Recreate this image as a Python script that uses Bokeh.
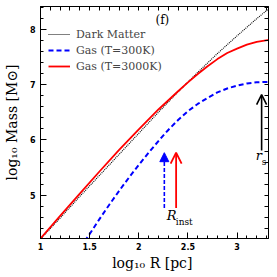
from bokeh.plotting import figure
from bokeh.models import (LinearAxis, SingleIntervalTicker, FixedTicker, Legend, LegendItem,
                          Label, Arrow, OpenHead, NormalHead, Range1d)
from bokeh.embed import file_html
from bokeh.resources import INLINE

# ---- data ----
log_r_dm = [1.0, 1.2, 1.4, 1.6, 1.8, 2.0, 2.2, 2.4, 2.6, 2.8, 3.0, 3.2, 3.33]
log_m_dm = [4.21, 4.59, 4.98, 5.36, 5.74, 6.12, 6.50, 6.87, 7.22, 7.56, 7.88, 8.19, 8.38]

log_r_hot = [1.0, 1.2, 1.4, 1.6, 1.8, 2.0, 2.2, 2.4, 2.5, 2.6, 2.7, 2.8, 2.9, 3.0, 3.1, 3.2, 3.33]
log_m_hot = [4.22, 4.63, 5.03, 5.43, 5.82, 6.19, 6.55, 6.88, 7.04, 7.19, 7.33, 7.46, 7.57, 7.65, 7.72, 7.77, 7.81]

log_r_cold = [1.45, 1.5, 1.6, 1.7, 1.8, 1.9, 2.0, 2.1, 2.2, 2.3, 2.4, 2.5, 2.6, 2.7, 2.8, 2.9, 3.0, 3.1, 3.2, 3.33]
log_m_cold = [4.17, 4.30, 4.57, 4.83, 5.08, 5.32, 5.55, 5.77, 5.98, 6.18, 6.36, 6.52, 6.65, 6.76, 6.86, 6.93, 6.98, 7.02, 7.04, 7.05]

legend_labels = ["Dark Matter", "Gas (T=300K)", "Gas (T=3000K)"]
r_inst_cold = 2.26
r_inst_hot = 2.38
r_s = 3.25

x_mirror_ticks = [round(1.0 + 0.1 * i, 1) for i in range(24)]
y_mirror_ticks = [round(4.4 + 0.2 * i, 1) for i in range(21)]

SERIF = "DejaVu Serif"

p = figure(width=277, height=277, output_backend="svg", toolbar_location=None,
           x_range=Range1d(1.0, 3.32), y_range=Range1d(4.22, 8.41),
           min_border_left=38, min_border_right=9, min_border_top=6, min_border_bottom=39,
           x_axis_label="log\u2081\u2080 R  [pc]", y_axis_label="log\u2081\u2080 Mass [M\u2299]")
p.grid.visible = False
p.background_fill_color = "white"
p.outline_line_color = "black"
p.outline_line_width = 1


def style(ax, ticker):
    ax.ticker = ticker
    ax.axis_line_color = "black"
    ax.major_tick_in = 6
    ax.major_tick_out = 0
    ax.minor_tick_in = 3
    ax.minor_tick_out = 0
    ax.major_tick_line_color = "black"
    ax.minor_tick_line_color = "black"
    ax.major_label_text_font = "DejaVu Sans"
    ax.major_label_text_font_style = "bold"
    ax.major_label_text_font_size = "8px"
    ax.major_label_text_color = "black"
    ax.axis_label_text_font = SERIF
    ax.axis_label_text_font_style = "normal"
    ax.axis_label_text_font_size = "14px"
    ax.axis_label_text_color = "black"


style(p.xaxis[0], SingleIntervalTicker(interval=0.5, num_minor_ticks=5))
style(p.yaxis[0], SingleIntervalTicker(interval=1, num_minor_ticks=5))
p.xaxis[0].major_label_standoff = 4
p.xaxis[0].axis_label_standoff = 2
p.yaxis[0].major_label_standoff = 5
p.yaxis[0].axis_label_standoff = 7

for ticks, side in ((x_mirror_ticks, "above"), (y_mirror_ticks, "right")):
    ax = LinearAxis(ticker=FixedTicker(ticks=[], minor_ticks=ticks))
    ax.axis_line_color = "black"
    ax.minor_tick_in = 4
    ax.minor_tick_out = 0
    ax.minor_tick_line_color = "black"
    ax.major_tick_in = 0
    ax.major_tick_out = 0
    p.add_layout(ax, side)

dm = p.line(log_r_dm, log_m_dm, line_color="black", line_width=1.1, line_dash="1 1")
cold = p.line(log_r_cold, log_m_cold, line_color="blue", line_width=2, line_dash="5 3")
hot = p.line(log_r_hot, log_m_hot, line_color="red", line_width=1.8)

legend = Legend(items=[LegendItem(label=legend_labels[0], renderers=[dm]),
                       LegendItem(label=legend_labels[1], renderers=[cold]),
                       LegendItem(label=legend_labels[2], renderers=[hot])],
                location=(8, 164), border_line_color=None, background_fill_alpha=0,
                label_text_font=SERIF, label_text_font_size="11px",
                glyph_width=22, glyph_height=16, label_height=16, spacing=-1,
                padding=0, margin=0, label_standoff=6)
p.add_layout(legend)

# arrows
p.add_layout(Arrow(x_start=r_inst_cold, y_start=4.77, x_end=r_inst_cold, y_end=5.77,
                   line_color="blue", line_width=1.6, line_dash="4 2",
                   end=NormalHead(size=9, fill_color="blue", line_color="blue", line_width=1)))
p.add_layout(Arrow(x_start=r_inst_hot, y_start=4.77, x_end=r_inst_hot, y_end=5.77,
                   line_color="red", line_width=1.8,
                   end=OpenHead(size=11, line_color="red", line_width=1.8)))
p.add_layout(Arrow(x_start=r_s, y_start=5.81, x_end=r_s, y_end=6.82,
                   line_color="black", line_width=1.6,
                   end=OpenHead(size=10, line_color="black", line_width=1.6)))

# labels
p.add_layout(Label(x=2.17, y=8.16, text="(f)", text_font=SERIF, text_font_size="12px",
                   text_baseline="middle", text_color="black"))
p.add_layout(Label(x=2.285, y=4.50, text="R", text_font=SERIF, text_font_style="italic",
                   text_font_size="13px", text_color="black"))
p.add_layout(Label(x=2.285, x_offset=9, y=4.43, text="inst", text_font=SERIF,
                   text_font_size="9px", text_color="black"))
p.add_layout(Label(x=3.19, y=5.58, text="r", text_font=SERIF, text_font_style="italic",
                   text_font_size="13px", text_color="black"))
p.add_layout(Label(x=3.19, x_offset=6, y=5.52, text="s", text_font=SERIF,
                   text_font_size="9px", text_color="black"))

open("out.html", "w").write(file_html(p, INLINE))
